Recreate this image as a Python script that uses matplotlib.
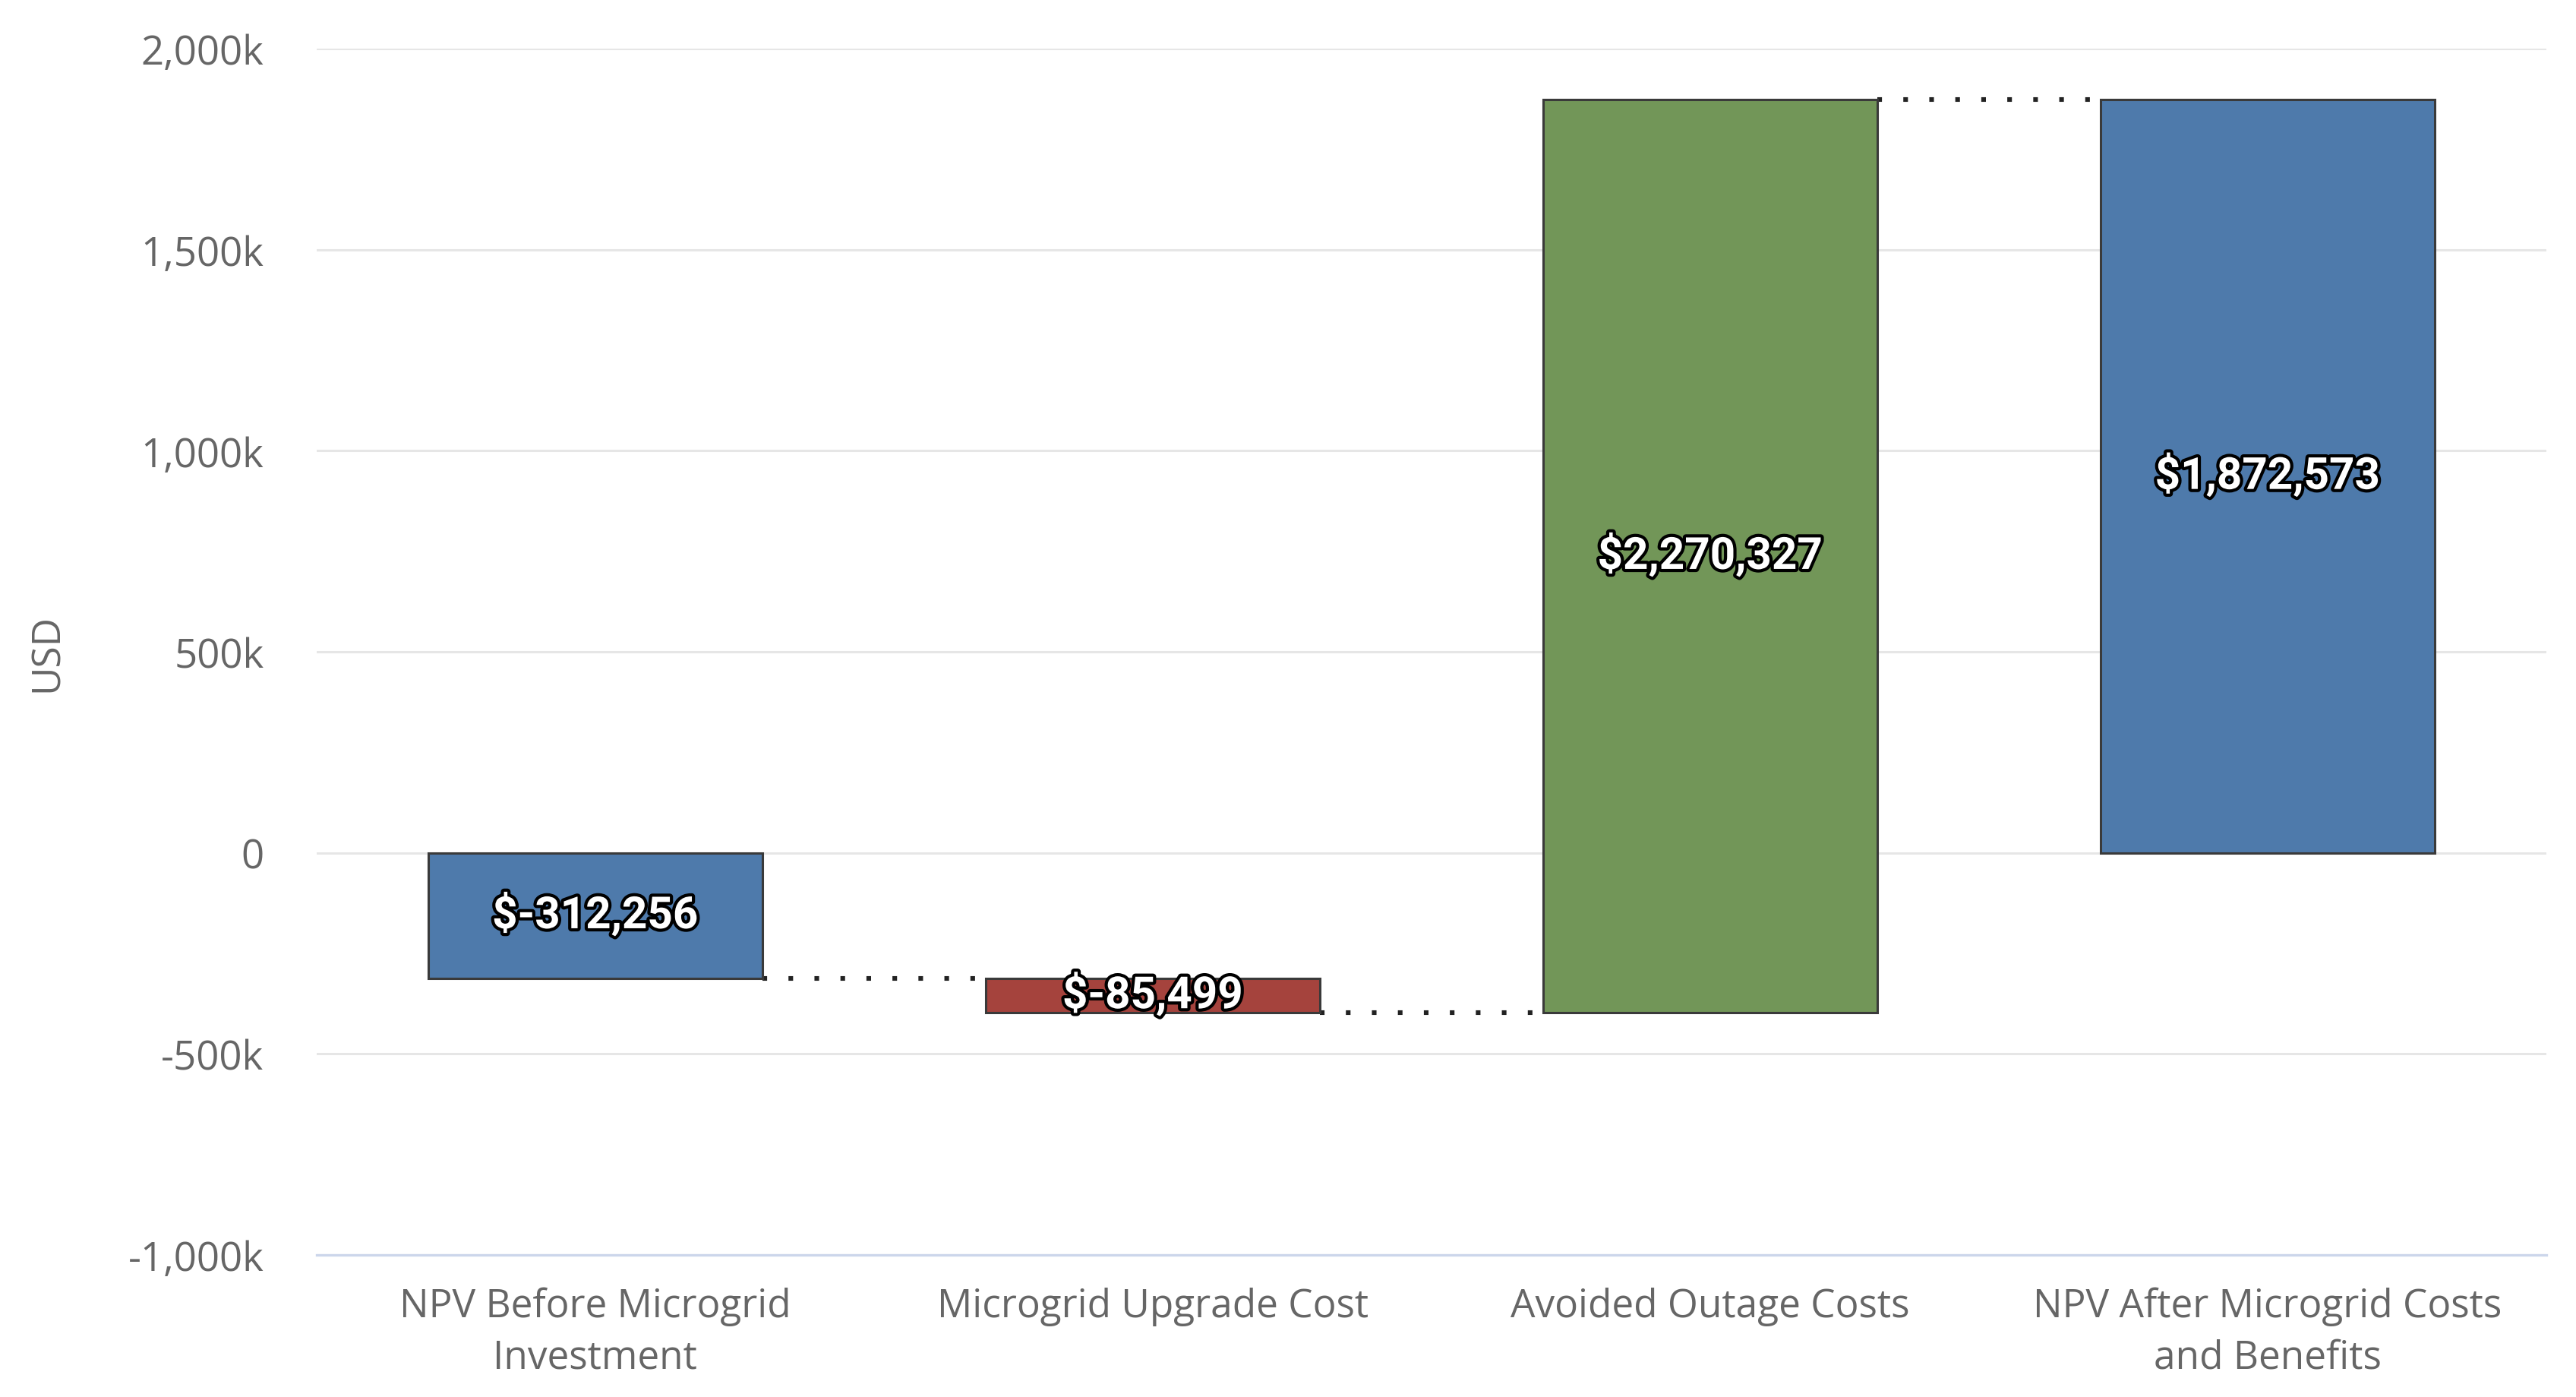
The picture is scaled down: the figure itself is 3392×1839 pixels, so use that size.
import numpy as np
import matplotlib.pyplot as plt
import matplotlib.patheffects as pe
from matplotlib.ticker import FuncFormatter

# Data
categories = ["NPV Before Microgrid\nInvestment", "Microgrid Upgrade Cost",
              "Avoided Outage Costs", "NPV After Microgrid Costs\nand Benefits"]
values = [-312256, -85499, 2270327, 1872573]
is_total = [False, False, False, True]
colors = ["#4e7aab", "#a5433d", "#729658", "#4e7aab"]
yticks = [-1000000, -500000, 0, 500000, 1000000, 1500000, 2000000]

label_font = ["Open Sans", "DejaVu Sans"]
value_font = ["Roboto", "DejaVu Sans"]

fig = plt.figure(figsize=(16.96, 9.2), dpi=200)
ax = fig.add_axes([0.1229, 0.1016, 0.8656, 0.8631])

# waterfall bottoms / heights
x = np.arange(len(categories))
bottoms, heights, levels = [], [], []
running = 0
for v, tot in zip(values, is_total):
    if tot:
        bottoms.append(0)
        heights.append(v)
    else:
        bottoms.append(running)
        heights.append(v)
        running += v
    levels.append(running if not tot else v)

width = 0.6
ax.bar(x, heights, bottom=bottoms, width=width, color=colors,
       edgecolor="#3a3a3a", linewidth=1.1, zorder=3)

# dotted connectors
for i in range(len(x) - 1):
    ax.plot([x[i] + width / 2, x[i + 1] - width / 2], [levels[i], levels[i]],
            color="#222222", linewidth=2.2, linestyle=(0, (1, 4.6)), zorder=2)

# value labels
for xi, b, h, v in zip(x, bottoms, heights, values):
    ax.text(xi, b + h / 2, f"${v:,}", ha="center", va="center",
            color="white", fontsize=21, fontweight="bold", family=value_font,
            zorder=5,
            path_effects=[pe.withStroke(linewidth=3, foreground="black")])

ax.set_xlim(-0.5, len(categories) - 0.5)
ax.set_ylim(-1000000, 2000000)
ax.set_yticks(yticks)
ax.yaxis.set_major_formatter(
    FuncFormatter(lambda v, p: "0" if v == 0 else f"{v / 1000:,.0f}k"))
ax.grid(axis="y", color="#e6e6e6", linewidth=1.1, zorder=0)
ax.set_axisbelow(True)

for s in ["top", "right", "left"]:
    ax.spines[s].set_visible(False)
ax.spines["bottom"].set_color("#ccd6eb")
ax.spines["bottom"].set_linewidth(1.2)
ax.spines["bottom"].set_zorder(1)

ax.set_xticks(x)
ax.set_xticklabels(categories, fontsize=18.5, color="#666666", family=label_font,
                   linespacing=1.42)
ax.tick_params(axis="x", length=0, pad=15)
ax.tick_params(axis="y", length=0, pad=25, labelsize=19, labelcolor="#666666")
for t in ax.get_yticklabels():
    t.set_family(label_font)

ax.set_ylabel("USD", fontsize=18.5, color="#666666", family=label_font)
ax.yaxis.set_label_coords(-0.112, 0.5)

fig.savefig("out.png", dpi=200, facecolor="white")
